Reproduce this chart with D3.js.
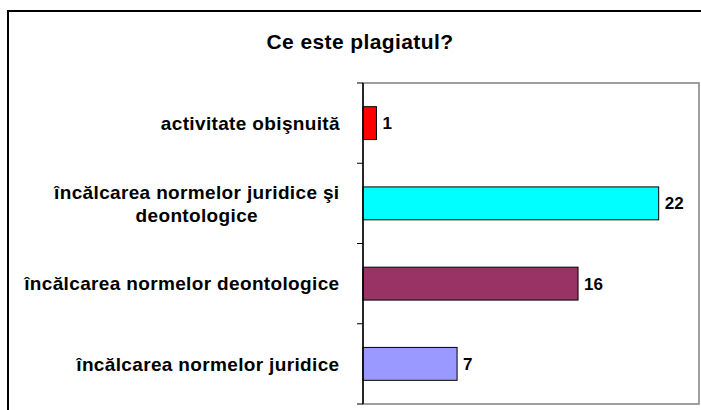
<!DOCTYPE html>
<html>
<head>
<meta charset="utf-8">
<script src="https://cdn.jsdelivr.net/npm/d3@7"></script>
<style>
  body { margin: 0; background: #fff; }
  text { font-family: "Liberation Sans", Arial, sans-serif; font-weight: bold; fill: #000; }
</style>
</head>
<body>
<div class="canva"></div>
<script>
const title = "Ce este plagiatul?";
const categories = [
  "activitate obişnuită",
  "încălcarea normelor juridice şi\ndeontologice",
  "încălcarea normelor deontologice",
  "încălcarea normelor juridice"
];
const values = [1, 22, 16, 7];
const colors = ["#ff0000", "#00ffff", "#993366", "#9999ff"];
const xDomain = [0, 25];

const width = 701, height = 410;
const plot = { left: 363, right: 699, top: 83, bottom: 404 };

const svg = d3.select(".canva").append("svg")
  .attr("width", width)
  .attr("height", height);

// outer frame (right/bottom run off the picture)
svg.append("rect")
  .attr("x", 8).attr("y", 11)
  .attr("width", 720).attr("height", 420)
  .attr("fill", "none")
  .attr("stroke", "#000")
  .attr("stroke-width", 2);

svg.append("text")
  .text(title)
  .attr("x", 360)
  .attr("y", 49)
  .attr("text-anchor", "middle")
  .attr("font-size", 21)
  .attr("letter-spacing", 0.4);

const x = d3.scaleLinear().domain(xDomain).range([plot.left, plot.right]);
const y = d3.scaleBand()
  .domain(categories)
  .range([plot.top, plot.bottom])
  .paddingInner(0.59)
  .paddingOuter(0.295);

// plot area
svg.append("rect")
  .attr("x", plot.left).attr("y", plot.top)
  .attr("width", plot.right - plot.left)
  .attr("height", plot.bottom - plot.top)
  .attr("fill", "#fff")
  .attr("stroke", "#808080")
  .attr("stroke-width", 1.5);

// bars
svg.selectAll(".bar")
  .data(categories)
  .enter()
  .append("rect")
  .attr("class", "bar")
  .attr("x", x(0))
  .attr("y", d => y(d))
  .attr("width", (d, i) => x(values[i]) - x(0))
  .attr("height", y.bandwidth())
  .attr("fill", (d, i) => colors[i])
  .attr("stroke", "#000")
  .attr("stroke-width", 1);

// value labels
svg.selectAll(".val")
  .data(categories)
  .enter()
  .append("text")
  .attr("class", "val")
  .text((d, i) => values[i])
  .attr("x", (d, i) => x(values[i]) + 6)
  .attr("y", d => y(d) + y.bandwidth() / 2)
  .attr("dy", "0.35em")
  .attr("font-size", 17);

// category axis: line with ticks at band boundaries
const step = y.step();
const edges = d3.range(categories.length + 1).map(i => plot.top + i * step);
svg.append("line")
  .attr("x1", plot.left).attr("x2", plot.left)
  .attr("y1", plot.top).attr("y2", plot.bottom)
  .attr("stroke", "#000")
  .attr("stroke-width", 1.5);
svg.selectAll(".tick")
  .data(edges)
  .enter()
  .append("line")
  .attr("x1", plot.left - 6).attr("x2", plot.left)
  .attr("y1", d => d).attr("y2", d => d)
  .attr("stroke", "#000")
  .attr("stroke-width", 1);

// category labels, lines centred inside a right-aligned block
const labelRight = 340;
const lineH = 23;
categories.forEach(c => {
  const lines = c.split("\n");
  const t = svg.append("text")
    .attr("font-size", 19)
    .attr("letter-spacing", 0.35)
    .attr("text-anchor", "middle");
  const cy = y(c) + y.bandwidth() / 2;
  lines.forEach((l, j) => {
    t.append("tspan")
      .text(l)
      .attr("x", 0)
      .attr("y", cy + (j - (lines.length - 1) / 2) * lineH)
      .attr("dy", "0.35em");
  });
  const w = t.node().getBBox().width;
  t.selectAll("tspan").attr("x", labelRight - w / 2);
});
</script>
</body>
</html>
